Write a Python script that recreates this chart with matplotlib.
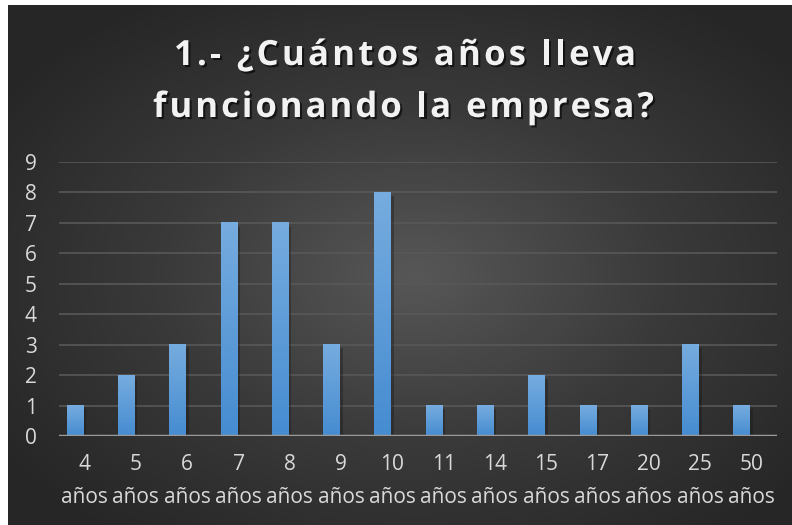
import numpy as np
import matplotlib.pyplot as plt
import matplotlib.patheffects as pe
from matplotlib.colors import LinearSegmentedColormap

# años que llevan funcionando las empresas encuestadas
categorias = ["4", "5", "6", "7", "8", "9", "10", "11", "14", "15", "17", "20", "25", "50"]
empresas = [1, 2, 3, 7, 7, 3, 8, 1, 1, 2, 1, 1, 3, 1]
titulo = ["1.- ¿Cuántos años lleva", "funcionando la empresa?"]

plt.rcParams['font.family'] = ['Open Sans', 'DejaVu Sans']

W, H = 792, 525
fig = plt.figure(figsize=(W / 100, H / 100), dpi=100, facecolor="white")

# fondo oscuro con degradado radial
bg = fig.add_axes([8 / W, 0, 1 - 8 / W, 1 - 5 / H])
bg.set_axis_off()
yy, xx = np.mgrid[0:1:300j, 0:1:450j]
r = np.sqrt(((xx - 0.52) / 0.75) ** 2 + ((yy - 0.52) / 0.75) ** 2)
r = np.clip(r, 0, 1)
bg_cmap = LinearSegmentedColormap.from_list("bg", ["#575757", "#3a3a3a", "#262626"])
bg.imshow(r, cmap=bg_cmap, aspect="auto", extent=[0, 1, 0, 1], vmin=0, vmax=0.85)
bg.set_xlim(0, 1)
bg.set_ylim(0, 1)

ax = fig.add_axes([59 / W, 1 - 436 / H, (777 - 59) / W, (436 - 162) / H])
ax.set_facecolor("none")
x = np.arange(len(categorias))

# lineas de cuadricula
for v in range(1, 10):
    ax.axhline(v, color="#585858", lw=1.2, zorder=1)
ax.axhline(0, color="#9a9a9a", lw=2.5, zorder=4)

# barras con degradado vertical (desplazadas a la izquierda de la categoria)
bar_cmap = LinearSegmentedColormap.from_list("bar", ["#468cd1", "#76acdf"])
ancho = 0.33
desp = -0.185
grad = np.linspace(0, 1, 100).reshape(-1, 1)
for xi, val in zip(x, empresas):
    xc = xi + desp
    ax.bar(xc + 0.05, val - 0.06, width=ancho, bottom=-0.06, color="#151515", alpha=0.35, zorder=2)
    ax.imshow(grad, cmap=bar_cmap, origin="lower", aspect="auto",
              extent=[xc - ancho / 2, xc + ancho / 2, 0, val], zorder=3)
ax.set_xlim(-0.5, len(categorias) - 0.5)
ax.set_ylim(0, 9)

for s in ax.spines.values():
    s.set_visible(False)
ax.set_yticks(range(10))
ax.set_yticklabels([str(v) for v in range(10)])
ax.set_xticks(x)
ax.set_xticklabels([c + "\naños" for c in categorias], linespacing=1.75)
ax.tick_params(axis="both", length=0, colors="#d9d9d9", labelsize=15)
ax.tick_params(axis="y", pad=16)
ax.tick_params(axis="x", pad=13)

# titulo con espaciado entre letras
renderer = fig.canvas.get_renderer()
estilo = dict(color="#f2f2f2", fontsize=25, fontweight="bold")
sombra = [pe.withSimplePatchShadow(offset=(1.5, -1.5), shadow_rgbFace="black", alpha=0.6)]


def titulo_espaciado(linea, base_y, izq, der):
    probe = fig.text(0, 0, "|", **estilo)
    w_bar = probe.get_window_extent(renderer).width
    avances = []
    for i in range(len(linea) + 1):
        probe.set_text(linea[:i] + "|")
        avances.append(probe.get_window_extent(renderer).width - w_bar)
    probe.remove()
    extra = ((der - izq) - avances[-1]) / (len(linea) - 1)
    for i, ch in enumerate(linea):
        if ch == " ":
            continue
        fig.text((izq + avances[i] + i * extra) / W, 1 - base_y / H, ch,
                 ha="left", va="baseline", path_effects=sombra, **estilo)


titulo_espaciado(titulo[0], 65, 174, 636)
titulo_espaciado(titulo[1], 117, 153, 654)

fig.savefig("out.png", dpi=100, facecolor="white")
